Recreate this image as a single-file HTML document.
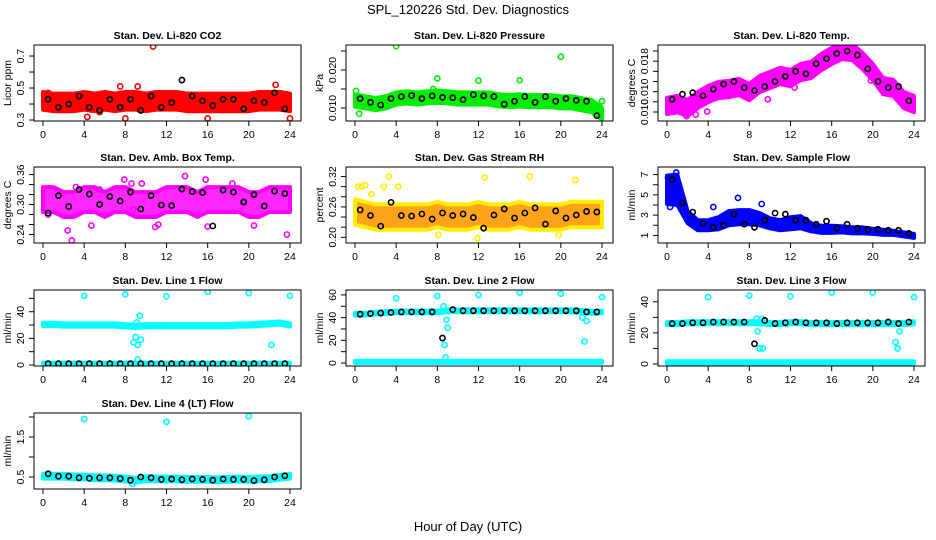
<!DOCTYPE html>
<html><head><meta charset="utf-8"><style>
body{margin:0;background:#fff;}
svg{display:block;font-family:"Liberation Sans",sans-serif;}
</style></head><body>
<svg id="chart" width="936" height="540" viewBox="0 0 936 540">
<text x="468" y="14" text-anchor="middle" font-size="13">SPL_120226  Std. Dev. Diagnostics</text>
<text x="468" y="531" text-anchor="middle" font-size="13">Hour of Day (UTC)</text>
</svg>
<script>
// ---- data ----
const hours = [0,1,2,3,4,5,6,7,8,9,10,11,12,13,14,15,16,17,18,19,20,21,22,23,24];
const blackHours = [0.5,1.5,2.5,3.5,4.5,5.5,6.5,7.5,8.5,9.5,10.5,11.5,12.5,13.5,14.5,15.5,16.5,17.5,18.5,19.5,20.5,21.5,22.5,23.5];
const xTicks = [0,4,8,12,16,20,24];

const co2Mid = [0.42,0.41,0.41,0.41,0.42,0.41,0.42,0.41,0.42,0.42,0.41,0.42,0.42,0.42,0.41,0.41,0.41,0.41,0.41,0.41,0.41,0.42,0.42,0.42,0.41];
const co2Black = [0.43,0.38,0.40,0.45,0.38,0.36,0.43,0.38,0.43,0.36,0.45,0.38,0.41,0.55,0.45,0.42,0.39,0.43,0.43,0.37,0.42,0.41,0.47,0.37];
const co2OutX = [10.7,8,16,4.3,24,0.5,7.5,9.2,22.6,5.5];
const co2OutY = [0.76,0.31,0.31,0.32,0.31,0.47,0.51,0.51,0.52,0.35];

const presMid = [0.012,0.0115,0.011,0.0115,0.0125,0.0128,0.0125,0.0128,0.013,0.0128,0.0125,0.0125,0.0125,0.0125,0.012,0.0118,0.012,0.0118,0.0118,0.0118,0.0115,0.0115,0.011,0.0105,0.0085];
const presBlack = [0.0125,0.0115,0.0108,0.0125,0.013,0.0133,0.0125,0.0132,0.0128,0.0127,0.0122,0.0135,0.0132,0.0130,0.0110,0.0118,0.0130,0.0115,0.0130,0.0118,0.0125,0.0120,0.0118,0.0080];
const presOutX = [4,8,12,16,20,24,0.4,0.1,7.6];
const presOutY = [0.0263,0.0178,0.0172,0.0173,0.0235,0.0118,0.0085,0.0145,0.0150];

const tempMid = [0.00918,0.00957,0.00879,0.01036,0.01154,0.01233,0.01252,0.01292,0.01193,0.01351,0.01429,0.01508,0.01469,0.01587,0.01626,0.01784,0.01902,0.02000,0.01980,0.01803,0.01587,0.01311,0.01272,0.01036,0.00957];
const tempBlack = [0.0105,0.0115,0.0118,0.0112,0.0125,0.0135,0.0140,0.0128,0.0122,0.0130,0.0140,0.0150,0.0160,0.0155,0.0175,0.0185,0.0195,0.0200,0.0192,0.0165,0.0140,0.0128,0.0130,0.0102];
const tempOutX = [0.6,2.8,3.9,9.8,12.4,14.2,19.8,23.2,1.9];
const tempOutY = [0.0080,0.0075,0.0081,0.0105,0.0128,0.0170,0.0142,0.0095,0.0072];

const boxMid = [0.31,0.31,0.30,0.30,0.31,0.31,0.30,0.31,0.31,0.30,0.30,0.30,0.31,0.31,0.31,0.30,0.31,0.31,0.31,0.31,0.30,0.30,0.31,0.31,0.31];
const boxBlack = [0.283,0.318,0.296,0.330,0.321,0.300,0.316,0.307,0.325,0.291,0.318,0.299,0.298,0.331,0.326,0.324,0.257,0.329,0.325,0.305,0.320,0.297,0.327,0.322];
const boxOutX = [2.8,3.2,0.5,2.4,4.7,7.9,8.8,8.6,9.6,10.9,13.8,15.8,18.4,20.5,23.7,5.5,11.2,16];
const boxOutY = [0.228,0.335,0.280,0.248,0.258,0.35,0.290,0.342,0.342,0.255,0.357,0.350,0.342,0.258,0.240,0.330,0.260,0.256];

const rhMid = [0.25,0.245,0.24,0.24,0.24,0.24,0.24,0.24,0.245,0.24,0.24,0.24,0.245,0.24,0.24,0.24,0.245,0.24,0.24,0.24,0.24,0.245,0.245,0.245,0.245];
const rhBlack = [0.254,0.243,0.222,0.269,0.243,0.242,0.246,0.236,0.248,0.243,0.246,0.239,0.218,0.244,0.256,0.238,0.248,0.258,0.226,0.252,0.238,0.244,0.251,0.250];
const rhOutX = [0.3,1.0,1.6,2.8,3.3,8.1,12.6,17.0,21.4,11.9,19.8,0.6,4.2];
const rhOutY = [0.300,0.303,0.285,0.300,0.320,0.205,0.318,0.320,0.313,0.198,0.205,0.300,0.300];

const sfMid = [5.5,5.5,2.8,2.0,2.0,2.2,2.7,2.8,2.8,2.6,2.2,2.0,2.2,2.3,1.8,1.6,1.6,1.6,1.5,1.5,1.4,1.3,1.25,1.1,0.95];
const sfSpread = [1.4,1.5,0.6,0.5,0.5,0.6,0.7,0.7,0.7,0.6,0.5,0.5,0.6,0.6,0.4,0.35,0.35,0.3,0.3,0.3,0.25,0.25,0.2,0.2,0.2];
const sfBlack = [6.5,4.2,3.3,2.2,1.8,2.0,3.1,2.1,1.8,2.5,3.2,3.1,2.5,2.5,2.1,2.4,1.7,2.1,1.7,1.6,1.6,1.5,1.5,1.2];
const sfOutX = [0.9,0.1,6.9,9.2,4.5,0.3];
const sfOutY = [7.2,6.7,4.7,4.1,3.8,3.8];

const l1Mid = [30.5,30.5,30,30,30,30,30,30,29.5,29,29.5,29.5,29.5,29.5,29.5,29.5,29.5,29.5,29.5,30,30,30.5,31,31.5,30];
const l1Low = [1,1,1,1,1,1,1,1,1,1,1,1,1,1,1,1,1,1,1,1,1,1,1,1,1];
const l1Black = [1,1,1,1,1,1,1,1,1,1,1,1,1,1,1,1,1,1,1,1,1,1,1,1];
const l1OutX = [4,8,12,16,20,24,8.8,9.0,9.2,9.4,9.5,9.2,9.1,22.2];
const l1OutY = [52,53,51.5,55,54,52,17,21,15,37,19,4,32,15];

const l2Mid = [43,43,44,44.5,45,45,45,45,45,46,46,46,46,46,46,46,46,46,46,46,46,46,45.5,44.5,45];
const l2Low = [1,1,1,1,1,1,1,1,1,1,1,1,1,1,1,1,1,1,1,1,1,1,1,1,1];
const l2Black = [43,43.5,44,44.5,45,45,45,45,22,47,46,46,46,46,46,46,46,46,46,46,46,46,45,45];
const l2OutX = [4,8,12,16,20,24,8.7,8.8,8.9,9.0,8.6,22.3,22.5,22.1];
const l2OutY = [57,59,60,62,61,58,16,5,38,31,50,19,37,40];

const l3Mid = [26,26,26.5,26.5,26.5,26.5,26.5,26.5,26.5,26.5,26,26,26.5,26.5,26,26,26,26,26,26,26,26,26,26,26.5];
const l3Low = [1,1,1,1,1,1,1,1,1,1,1,1,1,1,1,1,1,1,1,1,1,1,1,1,1];
const l3Black = [26,26,26.5,26.5,27,27,27,27,13,28,26,26.5,27,26.5,26.5,26.5,26,26.5,26.5,26.5,26.5,27,26,27];
const l3OutX = [4,8,12,16,20,24,8.8,9.0,9.3,8.7,9.2,22.2,22.4,22.6];
const l3OutY = [43,44,43.5,46,46,43,21,10,10,29,29,14,10,21];

const l4Mid = [0.52,0.52,0.52,0.5,0.5,0.48,0.48,0.47,0.45,0.42,0.46,0.45,0.45,0.45,0.44,0.44,0.44,0.43,0.44,0.45,0.44,0.45,0.46,0.49,0.52];
const l4Black = [0.58,0.52,0.52,0.48,0.47,0.48,0.48,0.46,0.42,0.50,0.48,0.44,0.45,0.43,0.45,0.44,0.42,0.45,0.44,0.44,0.41,0.43,0.50,0.53];
const l4OutX = [4,12,20,8.7];
const l4OutY = [1.95,1.88,2.02,0.33];

const panels = [
 {id:'co2',title:'Stan. Dev. Li-820 CO2',ylab:'Licor ppm',col:0,row:0,dom:[0.294,0.769],ticks:[0.3,0.4,0.5,0.6,0.7],labs:[[0.3,'0.3'],[0.5,'0.5'],[0.7,'0.7']],bands:[[co2Mid,0.055]],color:'#ff0000',black:co2Black,ox:co2OutX,oy:co2OutY},
 {id:'pressure',title:'Stan. Dev. Li-820 Pressure',ylab:'kPa',col:1,row:0,dom:[0.00658,0.02658],ticks:[0.010,0.015,0.020,0.025],labs:[[0.010,'0.010'],[0.020,'0.020']],bands:[[presMid,0.0016]],color:'#00ee00',black:presBlack,ox:presOutX,oy:presOutY},
 {id:'temp',title:'Stan. Dev. Li-820 Temp.',ylab:'degrees C',col:2,row:0,dom:[0.00623,0.02118],ticks:[0.008,0.010,0.012,0.014,0.016,0.018,0.020],labs:[[0.008,'0.010'],[0.012,'0.010'],[0.018,'0.018']],bands:[[tempMid,0.0016]],color:'#ff00ff',black:tempBlack,ox:tempOutX,oy:tempOutY},
 {id:'box-temp',title:'Stan. Dev. Amb. Box Temp.',ylab:'degrees C',col:0,row:1,dom:[0.2229,0.3752],ticks:[0.24,0.26,0.28,0.30,0.32,0.34,0.36],labs:[[0.24,'0.24'],[0.30,'0.30'],[0.36,'0.36']],bands:[[boxMid,0.025]],color:'#ff00ff',black:boxBlack,ox:boxOutX,oy:boxOutY,op:0.85},
 {id:'rh',title:'Stan. Dev. Gas Stream RH',ylab:'percent',col:1,row:1,dom:[0.1887,0.3388],ticks:[0.20,0.22,0.24,0.26,0.28,0.30,0.32],labs:[[0.20,'0.20'],[0.26,'0.26'],[0.32,'0.32']],bands:[[rhMid,0.025]],color:'#ff9a00',ring:'#ffee00',black:rhBlack,ox:rhOutX,oy:rhOutY,op:0.9},
 {id:'sample-flow',title:'Stan. Dev. Sample Flow',ylab:'ml/min',col:2,row:1,dom:[0.25,7.75],ticks:[1,2,3,4,5,6,7],labs:[[1,'1'],[3,'3'],[5,'5'],[7,'7']],bands:[[sfMid,sfSpread]],color:'#0000ff',black:sfBlack,ox:sfOutX,oy:sfOutY},
 {id:'line1',title:'Stan. Dev. Line 1 Flow',ylab:'ml/min',col:0,row:2,dom:[-0.74,56.3],ticks:[0,10,20,30,40,50],labs:[[0,'0'],[20,'20'],[40,'40']],bands:[[l1Mid,1.2],[l1Low,0.8]],color:'#00ffff',black:l1Black,ox:l1OutX,oy:l1OutY},
 {id:'line2',title:'Stan. Dev. Line 2 Flow',ylab:'ml/min',col:1,row:2,dom:[-2.6,64.3],ticks:[0,10,20,30,40,50,60],labs:[[0,'0'],[20,'20'],[40,'40'],[60,'60']],bands:[[l2Mid,1.2],[l2Low,0.9]],color:'#00ffff',black:l2Black,ox:l2OutX,oy:l2OutY},
 {id:'line3',title:'Stan. Dev. Line 3 Flow',ylab:'ml/min',col:2,row:2,dom:[-1.3,47.6],ticks:[0,10,20,30,40],labs:[[0,'0'],[20,'20'],[40,'40']],bands:[[l3Mid,1.0],[l3Low,0.7]],color:'#00ffff',black:l3Black,ox:l3OutX,oy:l3OutY},
 {id:'line4',title:'Stan. Dev. Line 4 (LT) Flow',ylab:'ml/min',col:0,row:3,dom:[0.2,2.1],ticks:[0.5,1.0,1.5,2.0],labs:[[0.5,'0.5'],[1.5,'1.5']],bands:[[l4Mid,0.06]],color:'#00ffff',black:l4Black,ox:l4OutX,oy:l4OutY}
];

// ---- drawing ----
const NS='http://www.w3.org/2000/svg';
const svg=document.getElementById('chart');
const rowTops=[45,167,290,413], PH=76, PW=267;
function mk(tag,attrs,parent){const e=document.createElementNS(NS,tag);for(const k in attrs)e.setAttribute(k,attrs[k]);(parent||svg).appendChild(e);return e;}

panels.forEach(p=>{
  const L=34+312*p.col, T=rowTops[p.row], B=T+PH, R=L+PW;
  const xs=h=>L+9+h*(247/24);
  const ys=v=>B-(v-p.dom[0])/(p.dom[1]-p.dom[0])*PH;
  const g=mk('g',{});
  
  
  const clip=mk('clipPath',{id:'clip-'+p.id},g);
  mk('rect',{x:L,y:T,width:PW,height:PH},clip);
  const plot=mk('g',{'clip-path':'url(#clip-'+p.id+')'},g);
  p.bands.forEach((b,bi)=>{
    const mid=b[0], sp=b[1];
    const s=i=>Array.isArray(sp)?sp[i]:sp;
    const up=hours.map((h,i)=>xs(h).toFixed(1)+','+ys(mid[i]+s(i)).toFixed(1));
    const lo=hours.map((h,i)=>xs(h).toFixed(1)+','+ys(mid[i]-s(i)).toFixed(1)).reverse();
    const poly=mk('polygon',{points:up.concat(lo).join(' '),fill:p.color,stroke:p.ring||p.color,'stroke-width':4,'stroke-linejoin':'round','fill-opacity':p.op||1},plot);
    
    
  });
  p.ox.forEach((x,i)=>{
    const c=mk('circle',{cx:xs(x),cy:ys(p.oy[i]),r:2.6,fill:'none',stroke:p.ring||p.color,'stroke-width':1.6},plot);
    
    
  });
  p.black.forEach((v,i)=>{
    const c=mk('circle',{cx:xs(blackHours[i]),cy:ys(v),r:2.6,fill:'none',stroke:'#000','stroke-width':1.6},plot);
    
    
  });
  const box=mk('rect',{x:L,y:T,width:PW,height:PH,fill:'none',stroke:'#000','stroke-width':1},g);
  
  
  const t=mk('text',{x:(L+R)/2,y:T-6,'text-anchor':'middle','font-size':10.5,'font-weight':'bold'},g);
  t.textContent=p.title;
  
  
  xTicks.forEach(h=>{
    mk('line',{x1:xs(h),x2:xs(h),y1:B,y2:B+5,stroke:'#000'},g);
    const tl=mk('text',{x:xs(h),y:B+17,'text-anchor':'middle','font-size':10.5},g);
    tl.textContent=h;
    
    
  });
  p.ticks.forEach(v=>mk('line',{x1:L-5,x2:L,y1:ys(v),y2:ys(v),stroke:'#000'},g));
  p.labs.forEach(l=>{
    const y=ys(l[0]);
    const tl=mk('text',{x:L-10,y:y,'text-anchor':'middle','font-size':10.5,transform:'rotate(-90 '+(L-10)+' '+y+')'},g);
    tl.textContent=l[1];
    
    
  });
  const yl=mk('text',{x:L-23,y:(T+B)/2,'text-anchor':'middle','font-size':10.5,transform:'rotate(-90 '+(L-23)+' '+(T+B)/2+')'},g);
  yl.textContent=p.ylab;
  
  
});
</script>
</body></html>
